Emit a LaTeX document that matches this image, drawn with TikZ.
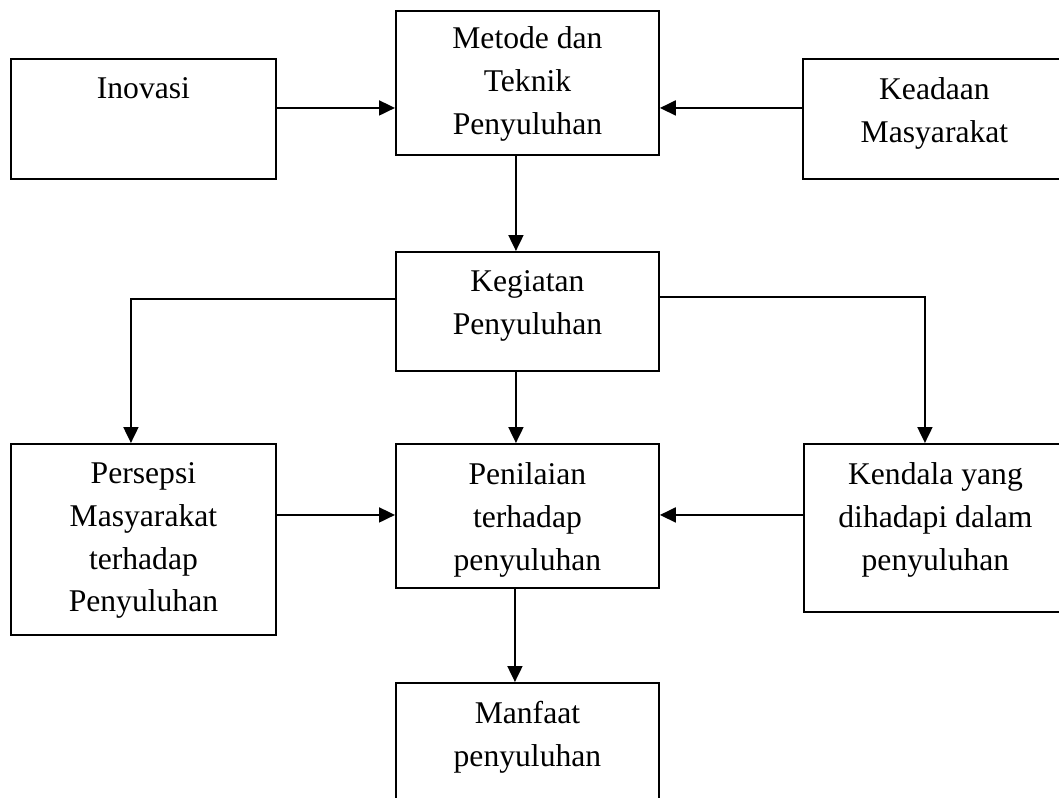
\documentclass[tikz,border=0pt]{standalone}
\usepackage{fontspec}
\setmainfont{Liberation Serif}
\usetikzlibrary{arrows.meta}

\begin{document}
\begin{tikzpicture}[x=0.02cm, y=-0.02cm,
    kotak/.style={draw, line width=1.1pt, anchor=north west, inner sep=0pt},
    tulisan/.style={align=center, anchor=north, inner sep=0pt, yshift=-0.38cm,
        font=\fontsize{18}{24.4}\selectfont},
    panah/.style={line width=1.1pt, -{Triangle[length=0.32cm, width=0.3cm]}}]
    \useasboundingbox (0,0) rectangle (1059,798);
    \clip (0,0) rectangle (1059,798);

    % kotak baris atas
    \node[kotak, minimum width=5.3cm, minimum height=2.4cm,
        label={[tulisan]north:Inovasi}] (inov) at (10,58) {};
    \node[kotak, minimum width=5.26cm, minimum height=2.88cm,
        label={[tulisan, yshift=0.06cm]north:{Metode dan\\Teknik\\Penyuluhan}}] (metode) at (395,10) {};
    \node[kotak, minimum width=5.26cm, minimum height=2.4cm,
        label={[tulisan]north:{Keadaan\\Masyarakat}}] (keadaan) at (802,58) {};

    % kotak tengah
    \node[kotak, minimum width=5.26cm, minimum height=2.38cm,
        label={[tulisan]north:{Kegiatan\\Penyuluhan}}] (kegiatan) at (395,251) {};

    % kotak baris bawah
    \node[kotak, minimum width=5.3cm, minimum height=3.82cm,
        label={[tulisan]north:{Persepsi\\Masyarakat\\terhadap\\Penyuluhan}}] (persepsi) at (10,443) {};
    \node[kotak, minimum width=5.26cm, minimum height=2.88cm,
        label={[tulisan]north:{Penilaian\\terhadap\\penyuluhan}}] (penilaian) at (395,443) {};
    \node[kotak, minimum width=5.26cm, minimum height=3.36cm,
        label={[tulisan]north:{Kendala yang\\dihadapi dalam\\penyuluhan}}] (kendala) at (803,443) {};
    \node[kotak, minimum width=5.26cm, minimum height=3cm,
        label={[tulisan]north:{Manfaat\\penyuluhan}}] (manfaat) at (395,682) {};

    % panah
    \path ([yshift=0.22cm]inov.east) coordinate (p1);
    \draw[panah] (p1) -- (p1 -| metode.west);
    \path ([yshift=0.22cm]keadaan.west) coordinate (p2);
    \draw[panah] (p2) -- (p2 -| metode.east);
    \draw[panah] ([xshift=-0.23cm]metode.south) -- ([xshift=-0.23cm]kegiatan.north);
    \draw[panah] ([yshift=0.25cm]kegiatan.west) -| ([xshift=-0.25cm]persepsi.north);
    \draw[panah] ([yshift=0.29cm]kegiatan.east) -| ([xshift=-0.21cm]kendala.north);
    \draw[panah] ([xshift=-0.23cm]kegiatan.south) -- ([xshift=-0.23cm]penilaian.north);
    \path ([yshift=0.49cm]persepsi.east) coordinate (p3);
    \draw[panah] (p3) -- (p3 -| penilaian.west);
    \path ([yshift=0.26cm]kendala.west) coordinate (p4);
    \draw[panah] (p4) -- (p4 -| penilaian.east);
    \draw[panah] ([xshift=-0.25cm]penilaian.south) -- ([xshift=-0.25cm]manfaat.north);
\end{tikzpicture}
\end{document}
